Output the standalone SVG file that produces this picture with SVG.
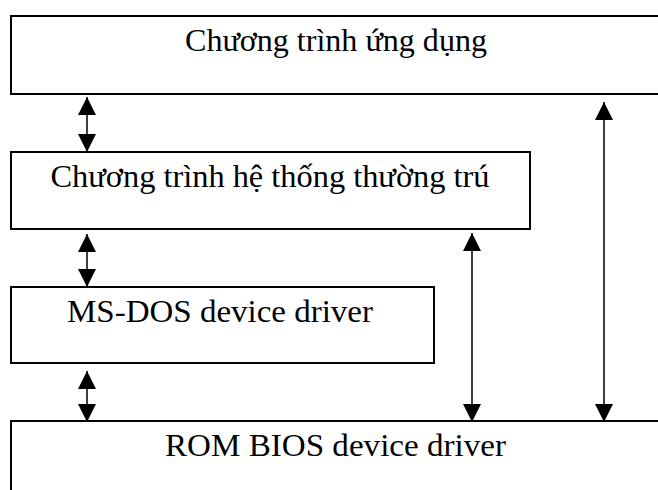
<svg xmlns="http://www.w3.org/2000/svg" width="658" height="490" viewBox="0 0 658 490">
  <style>
    .box { fill: #ffffff; stroke: #000000; stroke-width: 2; }
    .lbl { font-family: "Liberation Serif", "Times New Roman", serif; font-size: 31px; fill: #000000; text-anchor: middle; }
    .conn { stroke: #000000; stroke-width: 1.5; fill: none; marker-start: url(#ah); marker-end: url(#ah); }
  </style>
  <defs>
    <marker id="ah" markerUnits="userSpaceOnUse" markerWidth="18" markerHeight="18" viewBox="0 0 18 18" refX="18" refY="9" orient="auto-start-reverse">
      <path d="M0,0 L18,9 L0,18 Z" fill="#000000"/>
    </marker>
  </defs>
  <rect x="0" y="0" width="658" height="490" fill="#ffffff"/>

  <g id="node-app">
    <rect class="box" x="11" y="16" width="660" height="78"/>
    <text class="lbl" x="336" y="51" textLength="302" lengthAdjust="spacingAndGlyphs">Chương trình ứng dụng</text>
  </g>
  <g id="node-resident">
    <rect class="box" x="11" y="152" width="519" height="77"/>
    <text class="lbl" x="270" y="187" textLength="439" lengthAdjust="spacingAndGlyphs">Chương trình hệ thống thường trú</text>
  </g>
  <g id="node-msdos">
    <rect class="box" x="11" y="287" width="423" height="76"/>
    <text class="lbl" x="220" y="322" textLength="306" lengthAdjust="spacingAndGlyphs">MS-DOS device driver</text>
  </g>
  <g id="node-rombios">
    <rect class="box" x="11" y="421" width="660" height="80"/>
    <text class="lbl" x="335.5" y="456" textLength="341" lengthAdjust="spacingAndGlyphs">ROM BIOS device driver</text>
  </g>

  <g id="connectors">
    <line class="conn" x1="87" y1="97" x2="87" y2="152"/>
    <line class="conn" x1="87" y1="234" x2="87" y2="287"/>
    <line class="conn" x1="87" y1="371" x2="87" y2="422"/>
    <line class="conn" x1="472" y1="233" x2="472" y2="422"/>
    <line class="conn" x1="604" y1="102" x2="604" y2="422"/>
  </g>
</svg>
